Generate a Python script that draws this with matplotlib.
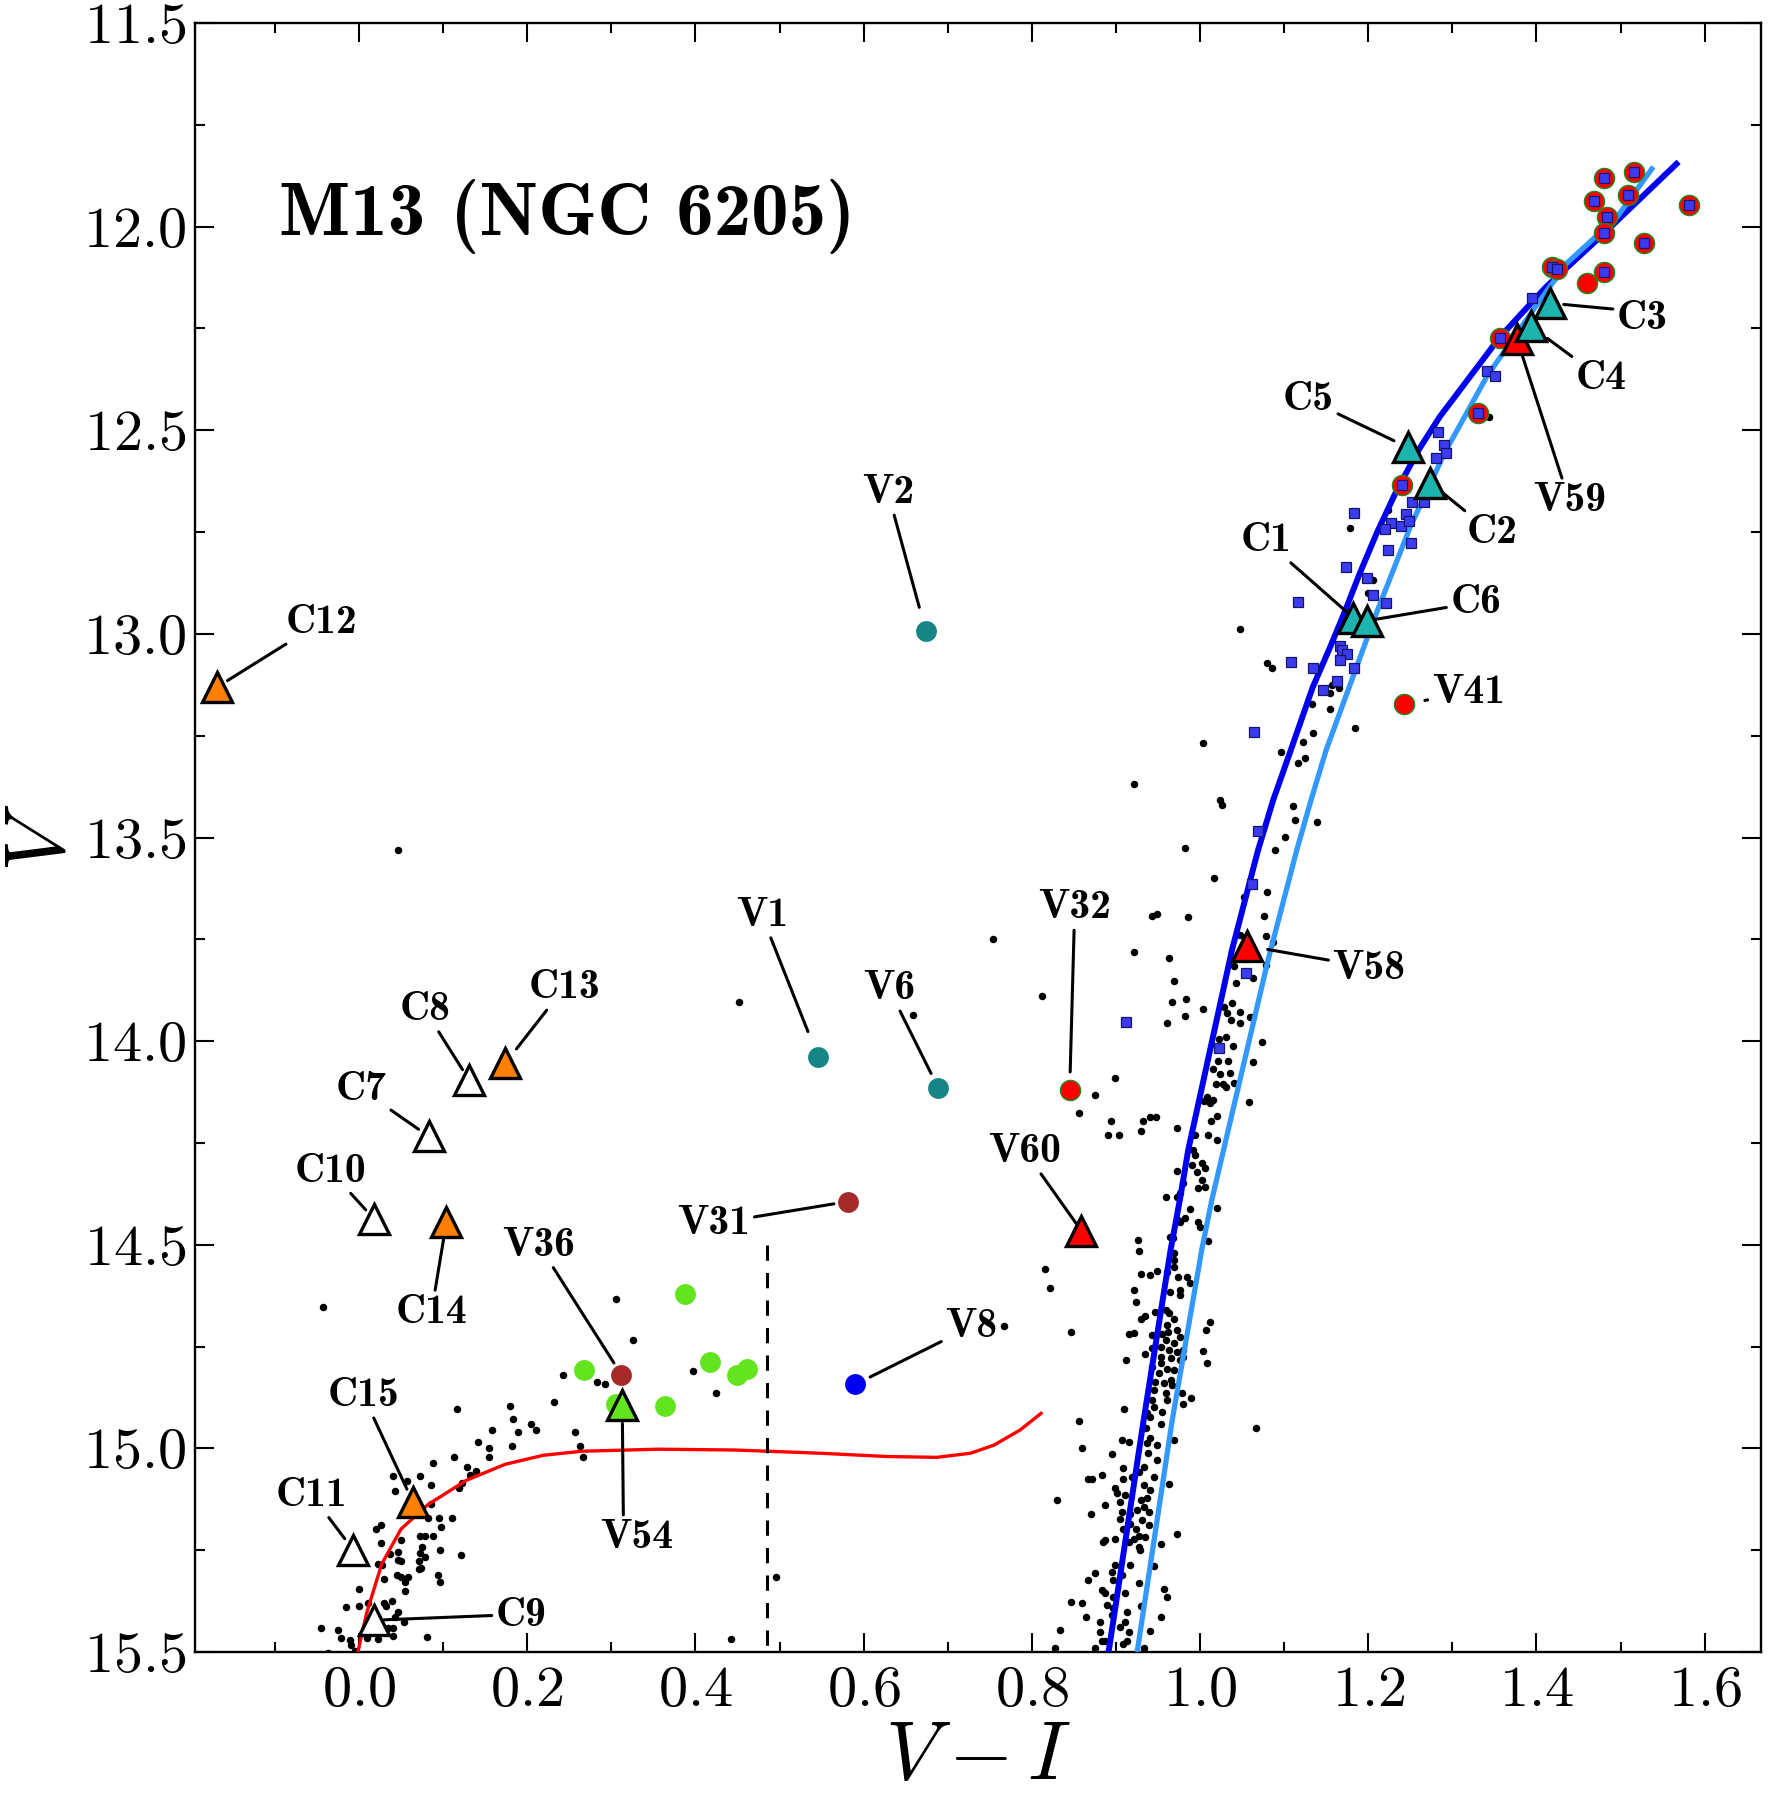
import matplotlib
matplotlib.use('Agg')
import matplotlib.pyplot as plt
from matplotlib.ticker import MultipleLocator

plt.rcParams['mathtext.fontset'] = 'cm'
plt.rcParams['font.family'] = 'serif'
plt.rcParams['font.serif'] = ['cmr10']
plt.rcParams['axes.formatter.use_mathtext'] = True

# ---------------- data (V-I, V) ----------------
# field stars: upper RGB
rgb_upper = [(1.343,12.467),(1.178,12.740),(1.224,12.696),(1.206,12.868),(1.200,12.899),(1.080,13.072),
             (1.085,13.085),(1.154,13.144),(1.157,13.126),(1.165,13.133),(1.133,13.173),(1.155,13.185),
             (1.184,13.232),(1.134,13.244),(1.122,13.265),(1.096,13.289),(1.125,13.306),(1.116,13.318),
             (1.047,12.988),(1.004,13.269)]
# field stars: middle RGB
rgb_mid = [(0.921,13.369),(1.024,13.408),(1.026,13.420),(1.111,13.423),(1.113,13.457),(1.139,13.461),
           (1.101,13.498),(1.089,13.531),(0.982,13.525),(1.017,13.599),(1.080,13.635),(1.052,13.645),
           (1.076,13.692),(0.943,13.692),(0.949,13.689),(0.986,13.694),(1.078,13.742),(1.087,13.756),
           (1.048,13.739),(0.921,13.782),(0.963,13.797),(1.040,13.816),(1.078,13.813),(1.063,13.846),
           (1.043,13.858),(0.969,13.852),(0.967,13.905),(0.983,13.897),(0.982,13.938),(1.003,13.922),
           (0.961,13.955),(1.028,13.915),(1.032,13.932),(1.038,13.907),(1.048,13.928),(1.059,13.940),
           (1.063,13.940),(1.037,13.948),(1.047,13.955),(1.031,13.989),(1.039,14.012),(1.022,13.996),
           (1.074,14.002),(1.063,14.052),(1.021,14.049),(1.033,14.048),(1.016,14.068),(1.024,14.081),
           (1.036,14.078),(1.019,14.106),(1.027,14.106),(1.031,14.112),(1.040,14.104),(1.058,14.150),
           (1.008,14.136),(1.005,14.146),(1.012,14.153),(1.016,14.145),(1.020,14.185),(1.013,14.195),
           (1.010,14.231),(1.020,14.244),(0.994,14.231),(0.973,14.213),(0.899,14.091),(0.875,14.132),
           (0.856,14.177),(0.894,14.195),(0.891,14.231),(0.904,14.231),(0.932,14.197),(0.941,14.186),
           (0.948,14.186),(0.930,14.221),(0.992,14.267),(0.994,14.280),(0.990,14.304),(1.002,14.300),
           (1.006,14.312),(0.996,14.321),(0.973,14.318),(1.002,14.341),(0.998,14.361),(1.006,14.357),
           (0.980,14.349),(0.976,14.374),(0.959,14.382),(0.973,14.382),(0.988,14.411),(1.020,14.409),
           (0.982,14.435),(0.976,14.443),(0.998,14.443),(1.000,14.456),(0.926,14.488),(1.010,14.492),
           (0.968,14.484)]
# field stars: scattered
scattered = [(0.452,13.905),(0.659,13.936),(0.754,13.750),(0.812,13.888),(0.046,13.531),(0.816,14.560),
             (0.822,14.607),(0.767,14.700),(0.846,14.714),(1.067,14.949),(0.856,14.933),(0.830,15.127),
             (0.442,15.467),(0.496,15.315),(-0.043,14.653)]
# field stars: lower RGB / subgiants
rgb_lower = [(0.974,14.440),(0.964,14.480),(0.928,14.516),(0.969,14.520),(0.969,14.537),(0.969,14.554),
             (0.961,14.566),(0.930,14.572),(0.941,14.574),(0.949,14.564),(0.974,14.578),(0.985,14.578),
             (0.988,14.595),(0.976,14.611),(0.976,14.623),(0.964,14.615),(0.921,14.611),(0.924,14.641),
             (0.934,14.676),(0.930,14.683),(0.947,14.664),(0.959,14.660),(0.963,14.668),(0.969,14.683),
             (0.961,14.697),(0.973,14.710),(0.962,14.714),(0.955,14.718),(0.943,14.722),(0.976,14.726),
             (1.012,14.689),(1.007,14.710),(0.916,14.718),(0.922,14.716),(0.959,14.734),(0.969,14.742),
             (0.953,14.750),(0.963,14.758),(0.973,14.763),(0.980,14.758),(0.980,14.775),(0.965,14.779),
             (0.953,14.775),(0.943,14.754),(0.934,14.768),(1.003,14.760),(1.008,14.791),(0.912,14.784),
             (0.953,14.791),(0.961,14.806),(0.969,14.808),(0.951,14.816),(0.943,14.800),(0.976,14.784),
             (0.946,14.836),(0.957,14.839),(0.965,14.832),(0.967,14.844),(0.945,14.857),(0.959,14.863),
             (0.978,14.863),(0.989,14.876),(0.980,14.891),(0.961,14.881),(0.943,14.881),(0.945,14.898),
             (0.937,14.914),(0.955,14.910),(0.941,14.922),(0.953,14.939),(0.936,14.951),(0.910,14.904),
             (0.969,14.979),(0.941,14.975),(0.937,14.987),(0.949,14.991),(0.907,14.980),(0.915,14.984),
             (0.938,15.012),(0.949,15.028),(0.895,15.013),(0.860,15.000),(0.933,15.045),(0.927,15.057),
             (0.908,15.047),(0.919,15.070),(0.908,15.074),(0.883,15.066),(0.867,15.074),(0.872,15.074),
             (0.899,15.098),(0.911,15.115),(0.905,15.131),(0.933,15.090),(0.941,15.102),(0.945,15.070),
             (0.963,15.088),(0.901,15.110),(0.937,15.123),(0.930,15.127),(0.933,15.143),(0.925,15.152),
             (0.939,15.156),(0.931,15.176),(0.917,15.160),(0.907,15.156),(0.887,15.138),(0.870,15.160),
             (0.917,15.185),(0.924,15.197),(0.939,15.189),(0.905,15.173),(0.908,15.197),(0.927,15.214),
             (0.921,15.222),(0.935,15.218),(0.915,15.230),(0.899,15.222),(0.887,15.226),(0.885,15.230),
             (0.973,15.210),(0.954,15.234),(0.927,15.242),(0.929,15.250),(0.899,15.286),(0.917,15.286),
             (0.895,15.303),(0.907,15.311),(0.875,15.305),(0.867,15.323),(0.897,15.323),(0.927,15.331),
             (0.945,15.290),(0.883,15.348),(0.887,15.355),(0.911,15.355),(0.897,15.364),(0.846,15.376),
             (0.860,15.379),(0.889,15.384),(0.897,15.393),(0.913,15.401),(0.895,15.409),(0.961,15.364),
             (0.957,15.345),(0.865,15.414),(0.881,15.426),(0.911,15.426),(0.905,15.438),(0.953,15.414),
             (0.930,15.388),(0.834,15.447),(0.881,15.451),(0.915,15.451),(0.941,15.449),(0.883,15.473),
             (0.887,15.473),(0.913,15.473),(0.909,15.481),(0.933,15.489),(0.828,15.490),(0.875,15.490)]
# field stars: horizontal branch
hb = [(0.306,14.634),(0.326,14.733),(0.243,14.821),(0.283,14.836),(0.292,14.843),(0.397,14.810),
      (0.425,14.864),(0.232,14.885),(0.180,14.895),(0.116,14.903),(0.183,14.929),(0.158,14.954),
      (0.205,14.940),(0.210,14.954),(0.189,14.961),(0.257,14.959),(0.263,14.994),(0.266,15.020),
      (0.142,14.985),(0.155,14.998),(0.182,14.994),(0.113,15.022),(0.154,15.022),(0.088,15.036),
      (0.128,15.045),(0.139,15.056),(0.132,15.065),(0.123,15.086),(0.119,15.097),(0.041,15.069),
      (0.057,15.079),(0.072,15.067),(0.086,15.091),(0.043,15.105),(0.086,15.136),(0.082,15.172),
      (0.095,15.171),(0.111,15.172),(0.020,15.197),(0.026,15.188),(0.050,15.224),(0.073,15.214),
      (0.078,15.216),(0.088,15.214),(0.097,15.194),(0.026,15.233),(0.096,15.250),(0.121,15.263),
      (0.075,15.241),(0.073,15.257),(0.078,15.267),(0.071,15.276),(0.046,15.254),(0.037,15.259),
      (0.046,15.274),(0.050,15.276),(0.027,15.286),(0.023,15.284),(0.071,15.297),(0.074,15.293),
      (0.045,15.310),(0.050,15.317),(0.058,15.317),(0.094,15.312),(0.096,15.328),(0.030,15.321),
      (0.055,15.329),(0.055,15.349),(0.000,15.345),(0.030,15.379),(0.039,15.375),(0.032,15.386),
      (0.011,15.379),(0.000,15.388),(-0.016,15.390),(0.046,15.403),(0.043,15.414),(0.053,15.427),
      (-0.045,15.441),(-0.025,15.447),(0.034,15.441),(0.041,15.441),(-0.021,15.466),(-0.011,15.470),
      (0.009,15.466),(0.023,15.467),(0.041,15.461),(0.081,15.464),(-0.009,15.483),(-0.005,15.498),
      (-0.037,15.502)]

# red circles (green edge) - bright giants
red_circ_vi = [1.480,1.516,1.468,1.509,1.484,1.480,1.581,1.528,1.418,1.425,1.480,1.460,1.357,1.331,1.240]
red_circ_v  = [11.880,11.867,11.936,11.922,11.977,12.015,11.947,12.039,12.098,12.105,12.111,12.138,12.273,12.457,12.634]
# blue squares
sq_vi = [1.480,1.516,1.468,1.509,1.484,1.480,1.581,1.528,1.418,1.425,1.480,1.357,1.331,1.240,
         1.395,1.341,1.351,1.283,1.290,1.293,1.280,1.183,1.252,1.266,1.245,1.227,1.239,1.249,1.220,
         1.251,1.223,1.173,1.198,1.206,1.221,1.117,1.167,1.169,1.175,1.167,1.108,1.134,1.183,1.163,
         1.146,1.064,1.069,1.062,1.055,0.912,1.023]
sq_v  = [11.880,11.867,11.936,11.922,11.977,12.015,11.947,12.039,12.098,12.105,12.111,12.273,12.457,12.634,
         12.175,12.354,12.367,12.504,12.536,12.555,12.569,12.702,12.675,12.675,12.706,12.727,12.735,12.723,12.743,
         12.776,12.794,12.837,12.862,12.905,12.923,12.921,13.031,13.040,13.049,13.064,13.070,13.085,13.083,13.115,
         13.138,13.240,13.484,13.615,13.832,13.952,14.018]
# light-green circles (HB variables)
lg_vi = [0.267,0.388,0.417,0.450,0.461,0.364,0.306]
lg_v  = [14.808,14.621,14.789,14.819,14.806,14.897,14.892]

# labelled stars
teal_circ = {'V1': (0.546,14.040), 'V2': (0.674,12.994), 'V6': (0.689,14.116)}
brown_circ = {'V31': (0.581,14.394), 'V36': (0.312,14.819)}
blue_circ = {'V8': (0.590,14.843)}
red_circ_lab = {'V32': (0.845,14.120), 'V41': (1.243,13.173)}
red_tri = {'V60': (0.859,14.466), 'V58': (1.056,13.766), 'V59': (1.377,12.277)}
teal_tri = {'C1': (1.182,12.960), 'C2': (1.274,12.629), 'C3': (1.416,12.188),
            'C4': (1.393,12.244), 'C5': (1.247,12.542), 'C6': (1.198,12.968)}
orange_tri = {'C12': (-0.169,13.131), 'C13': (0.174,14.054), 'C14': (0.104,14.444), 'C15': (0.064,15.131)}
white_tri = {'C7': (0.083,14.234), 'C8': (0.131,14.096), 'C9': (0.018,15.422),
             'C10': (0.018,14.437), 'C11': (-0.007,15.249)}
green_tri = {'V54': (0.313,14.894)}

# isochrones and ZAHB
iso1_vi = [1.569,1.476,1.412,1.357,1.285,1.260,1.234,1.210,1.190,1.173,1.155,1.134,1.108,1.087,
           1.069,1.038,0.986,0.976,0.965,0.933,0.892,0.891]
iso1_v  = [11.841,12.025,12.147,12.270,12.467,12.548,12.647,12.753,12.851,12.941,13.031,13.131,13.285,13.408,
           13.531,13.776,14.267,14.390,14.513,14.930,15.490,15.500]
iso2_vi = [1.539,1.496,1.436,1.396,1.341,1.291,1.250,1.208,1.150,1.132,1.115,1.081,1.028,1.014,1.002,0.967,0.926,0.925]
iso2_v  = [11.853,11.976,12.090,12.205,12.368,12.555,12.737,12.958,13.285,13.408,13.531,13.800,14.267,14.390,14.513,14.930,15.490,15.500]
zahb_vi = [-0.002,0.009,0.027,0.050,0.082,0.128,0.174,0.219,0.265,0.356,0.447,0.524,0.549,0.628,0.687,0.727,0.755,0.786,0.811]
zahb_v  = [15.506,15.405,15.284,15.198,15.138,15.078,15.039,15.017,15.007,15.002,15.004,15.010,15.012,15.020,15.022,15.012,14.992,14.955,14.914]
# instability-strip edge
edge_vi = [0.485, 0.485]
edge_v = [14.50, 15.50]

# label: (text V-I, text V, gap in points)
label_pos = {
    'V2': (0.629,12.653,18), 'C12': (-0.045,12.971,9), 'C13': (0.244,13.869,13), 'C8': (0.078,13.922,9),
    'C7': (0.003,14.119,9), 'C10': (-0.034,14.319,9), 'C14': (0.086,14.667,13), 'C15': (0.005,14.870,10),
    'C11': (-0.056,15.115,10), 'C9': (0.193,15.410,7), 'V36': (0.214,14.501,10), 'V54': (0.330,15.219,13),
    'V31': (0.422,14.448,10), 'V1': (0.479,13.691,20), 'V6': (0.630,13.871,12), 'V8': (0.728,14.701,12),
    'V32': (0.851,13.672,13), 'V60': (0.792,14.271,6), 'V58': (1.201,13.821,15), 'V41': (1.319,13.143,15),
    'C1': (1.078,12.771,4), 'C6': (1.328,12.923,6), 'C5': (1.129,12.425,11), 'C2': (1.347,12.752,11),
    'C3': (1.526,12.226,10), 'C4': (1.477,12.372,15), 'V59': (1.439,12.673,5),
}
# where the leader line leaves the label box (fraction of box), default centre
label_relpos = {'V54': (0.32, 1.0), 'V58': (0.0, 0.7), 'C3': (0.0, 0.75), 'C9': (0.0, 0.5)}

# ---------------- figure ----------------
fig = plt.figure(figsize=(17.71, 17.96), dpi=100)
ax = fig.add_axes([195/1771, 1-1652/1796, (1761-195)/1771, (1652-23)/1796])

field = rgb_upper + rgb_mid + scattered + rgb_lower + hb
ax.plot([p[0] for p in field], [p[1] for p in field], 'o', color='k', ms=5.4, mew=0, zorder=2)

ax.plot(iso1_vi, iso1_v, '-', color='#0000EE', lw=4.3, zorder=3, solid_capstyle='butt', solid_joinstyle='round')
ax.plot(iso2_vi, iso2_v, '-', color='#3399FF', lw=3.8, zorder=3, solid_capstyle='butt', solid_joinstyle='round')
ax.plot(zahb_vi, zahb_v, '-', color='#FF0000', lw=2.4, zorder=3, solid_joinstyle='round')
ax.plot(edge_vi, edge_v, '--', color='k', lw=2.2, dashes=(5, 4), zorder=3)

ax.plot(red_circ_vi, red_circ_v, 'o', color='#FF0000', mec='#1E8B1E', mew=1.0, ms=14.5, zorder=5)
ax.plot(sq_vi, sq_v, 's', color='#3B3BEF', mec='#15156A', mew=0.9, ms=7.2, zorder=6)
ax.plot(lg_vi, lg_v, 'o', color='#62E41E', mew=0, ms=15, zorder=5)

def draw(group, **kw):
    xs = [v[0] for v in group.values()]
    ys = [v[1] for v in group.values()]
    ax.plot(xs, ys, linestyle='none', **kw)

draw(teal_circ, marker='o', color='#158585', mew=0, ms=15, zorder=5)
draw(brown_circ, marker='o', color='#A52A2A', mew=0, ms=15, zorder=5)
draw(blue_circ, marker='o', color='#0000F0', mew=0, ms=15, zorder=5)
draw(red_circ_lab, marker='o', color='#FF0000', mec='#1E8B1E', mew=1.0, ms=14.5, zorder=5)
tri = dict(marker='^', ms=21, mec='k', mew=2.4, zorder=7)
draw(red_tri, color='#FF0000', **tri)
draw(teal_tri, color='#1DB4AE', **tri)
draw(orange_tri, color='#FF8000', **tri)
draw(white_tri, color='white', **tri)
draw(green_tri, color='#62E41E', **tri)

stars = {}
for g in (teal_circ, brown_circ, blue_circ, red_circ_lab, red_tri, teal_tri, orange_tri, white_tri, green_tri):
    stars.update(g)

for name, (tx, ty, gap) in label_pos.items():
    ap = dict(arrowstyle='-', color='k', lw=2.2, shrinkA=1, shrinkB=gap)
    if name in label_relpos:
        ap['relpos'] = label_relpos[name]
    ax.annotate(name, xy=stars[name], xytext=(tx, ty), ha='center', va='center',
                fontsize=30, family='cmb10', zorder=4, arrowprops=ap)

ax.text(-0.095, 12.02, 'M13 (NGC 6205)', family='cmb10', fontsize=54, ha='left', va='baseline')

ax.set_xlim(-0.195, 1.667)
ax.set_ylim(15.5, 11.5)
ax.xaxis.set_major_locator(MultipleLocator(0.2))
ax.xaxis.set_minor_locator(MultipleLocator(0.1))
ax.yaxis.set_major_locator(MultipleLocator(0.5))
ax.yaxis.set_minor_locator(MultipleLocator(0.25))
ax.tick_params(which='both', direction='in', top=True, right=True, width=1.5)
ax.tick_params(which='major', length=14, labelsize=42)
ax.tick_params(which='minor', length=7)
ax.tick_params(axis='x', which='major', pad=10)
ax.tick_params(axis='y', which='major', pad=6)
for s in ax.spines.values():
    s.set_linewidth(1.7)

ax.set_xlabel(r'$V-I$', fontsize=60, va='center')
ax.xaxis.set_label_coords(0.5, -0.065)
ax.set_ylabel(r'$V$', fontsize=62, va='center')
ax.yaxis.set_label_coords(-0.097, 0.5)

fig.savefig('out.png', dpi=100)
